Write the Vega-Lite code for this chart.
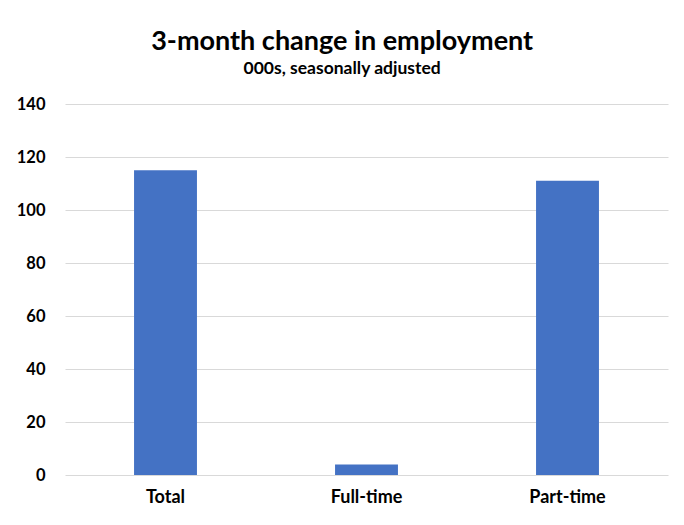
{
  "$schema": "https://vega.github.io/schema/vega-lite/v6.json",
  "width": 603,
  "height": 371,
  "autosize": {"type": "none"},
  "padding": {"left": 65, "top": 104, "right": 16, "bottom": 50},
  "background": "white",
  "title": {
    "text": "3-month change in employment",
    "subtitle": "000s, seasonally adjusted",
    "anchor": "middle",
    "frame": "bounds",
    "font": "Lato",
    "fontSize": 27,
    "fontWeight": "bold",
    "color": "black",
    "subtitleFont": "Lato",
    "subtitleFontSize": 17.5,
    "subtitleFontWeight": "bold",
    "subtitleColor": "black",
    "subtitlePadding": 4,
    "offset": 18
  },
  "data": {
    "values": [
      {"category": "Total", "change": 115},
      {"category": "Full-time", "change": 4},
      {"category": "Part-time", "change": 111}
    ]
  },
  "mark": {"type": "bar", "color": "#4472C4"},
  "encoding": {
    "x": {
      "field": "category",
      "type": "nominal",
      "sort": null,
      "scale": {"paddingInner": 0.687, "paddingOuter": 0.3435},
      "axis": {
        "title": null,
        "labelAngle": 0,
        "domain": false,
        "ticks": false,
        "labelFont": "Lato",
        "labelFontSize": 18,
        "labelFontWeight": "bold",
        "labelColor": "black",
        "labelPadding": 13
      }
    },
    "y": {
      "field": "change",
      "type": "quantitative",
      "scale": {"domain": [0, 140]},
      "axis": {
        "title": null,
        "values": [0, 20, 40, 60, 80, 100, 120, 140],
        "domain": false,
        "ticks": false,
        "labelFont": "Lato",
        "labelFontSize": 16.5,
        "labelFontWeight": "bold",
        "labelColor": "black",
        "labelPadding": 20,
        "gridColor": "#d9d9d9",
        "gridWidth": 1
      }
    }
  },
  "config": {"view": {"stroke": null}}
}
